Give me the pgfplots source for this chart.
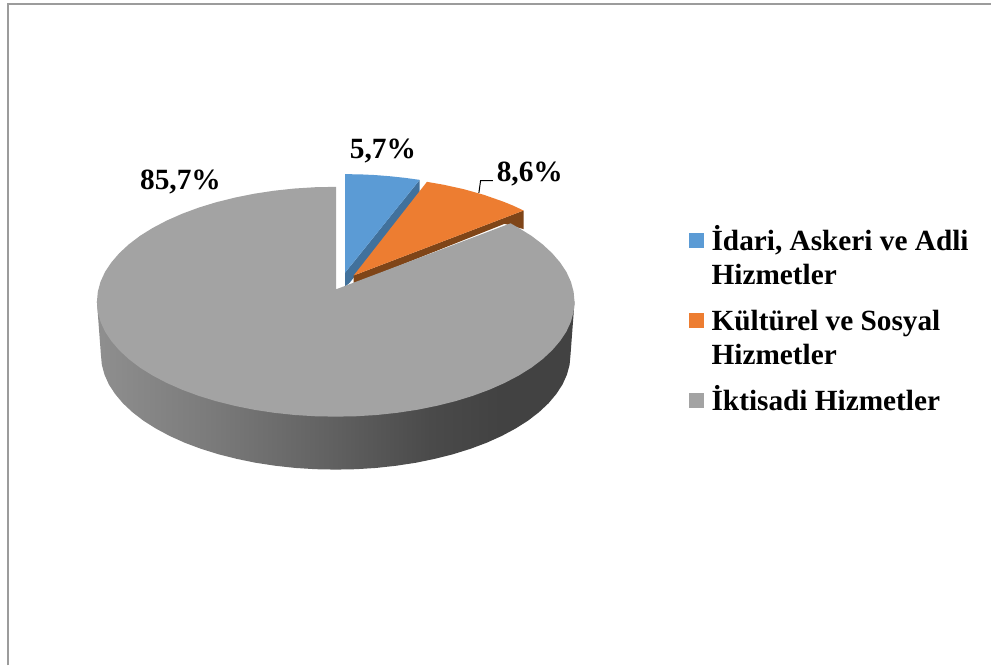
\documentclass[border=0pt]{standalone}
\usepackage{fontspec}
\setmainfont{Liberation Serif}
\usepackage{pgfplots}
\pgfplotsset{compat=1.18}
\definecolor{cblue}{HTML}{5B9BD5}
\definecolor{cbluedk}{HTML}{41719C}
\definecolor{corange}{HTML}{ED7D31}
\definecolor{corangedk}{HTML}{7F4518}
\definecolor{cgray}{HTML}{A3A3A3}
\definecolor{cframe}{HTML}{9C9C9C}
\pgfdeclarehorizontalshading{sidegrad}{100bp}{
 rgb(0bp)=(.56,.56,.56);
 rgb(25bp)=(.56,.56,.56);
 rgb(37bp)=(.48,.48,.48);
 rgb(49.5bp)=(.38,.38,.38);
 rgb(60bp)=(.29,.29,.29);
 rgb(67bp)=(.26,.26,.26);
 rgb(100bp)=(.26,.26,.26)}
\newcommand{\lab}{\fontsize{29.4}{32}\selectfont\bfseries}
\newcommand{\leg}{\fontsize{29.3}{32}\selectfont\bfseries}
\begin{document}
\begin{tikzpicture}
\begin{axis}[
  scale only axis, width=992pt, height=666pt,
  xmin=0, xmax=992, ymin=0, ymax=666, y dir=reverse,
  hide axis, clip=false]
% page
\addplot[fill=white, draw=none] coordinates {(0,0)(992,0)(992,666)(0,666)} --cycle;
% frame
\addplot[cframe, line width=1.7pt] coordinates {(8,666)(8,4)(992,4)};
% side of the big slice
\addplot[draw=none, shade, shading=sidegrad] coordinates {
(97,302)(575,302)(571,355)(570.1,365.0)(567.4,375.0)(563.0,384.8)(556.8,394.3)(549.0,403.6)(539.5,412.5)(528.5,421.0)(516.0,428.9)(502.2,436.3)(487.1,443.1)(470.8,449.2)(453.5,454.6)(435.3,459.2)(416.4,463.1)(396.8,466.1)(376.8,468.3)(356.5,469.6)(336,470)(315.5,469.6)(295.2,468.3)(275.2,466.1)(255.6,463.1)(236.7,459.2)(218.5,454.6)(201.2,449.2)(184.9,443.1)(169.8,436.3)(156.0,428.9)(143.5,421.0)(132.5,412.5)(123.0,403.6)(115.2,394.3)(109.0,384.8)(104.6,375.0)(101.9,365.0)(101,355)
} --cycle;
% dark edges
\addplot[fill=cbluedk, draw=none] coordinates {(345.3,273)(420,180)(420,192)(350,283)(345.3,287)} --cycle;
\addplot[fill=corangedk, draw=none] coordinates {(354,275.7)(524,210.7)(524,229.3)(505,224)(354,284)} --cycle;
% blue slice
\addplot[fill=cblue, draw=none] coordinates {(345.3,174.3)(360.3,174.5)(375.3,175.2)(390.3,176.4)(405.3,178)(420,180)(345.3,273)} --cycle;
% orange slice
\addplot[fill=corange, draw=none] coordinates {(427.3,182)(444,184.9)(464,189.3)(484,194.9)(504,201.9)(514,206)(524,210.7)(354,275.7)} --cycle;
% big slice
\addplot[fill=cgray, draw=none] coordinates {
(336.5,187)(315.2,187.4)(294.5,188.7)(274.1,190.9)(254.3,193.9)(235.0,197.8)(216.5,202.4)(198.9,207.8)(182.4,213.9)(167.0,220.7)(152.9,228.1)(140.2,236.0)(129.0,244.5)(119.4,253.4)(111.4,262.7)(105.1,272.2)(100.6,282.0)(97.9,292.0)(97,302)
(97.9,312.0)(100.6,322.0)(105.1,331.8)(111.4,341.3)(119.4,350.6)(129.0,359.5)(140.2,368.0)(152.9,375.9)(167.0,383.3)(182.4,390.1)(198.9,396.2)(216.5,401.6)(235.0,406.2)(254.3,410.1)(274.1,413.1)(294.5,415.3)(315.2,416.6)(336,417)
(356.8,416.6)(377.5,415.3)(397.9,413.1)(417.7,410.1)(437.0,406.2)(455.5,401.6)(473.1,396.2)(489.6,390.1)(505.0,383.3)(519.1,375.9)(531.8,368.0)(543.0,359.5)(552.6,350.6)(560.6,341.3)(566.9,331.8)(571.4,322.0)(574.1,312.0)(575,302)
(574.1,292.0)(571.4,282.0)(566.9,272.2)(560.6,262.7)(552.6,253.4)(543.0,244.5)(531.8,236.0)(519.1,228.1)(511,223.5)(336.5,289.5)
} --cycle;
% leader
\addplot[black, line width=1pt] coordinates {(479.3,193)(481,180.7)(493.3,180.7)};
% legend swatches
\addplot[fill=cblue, draw=none] coordinates {(690,233)(705,233)(705,248)(690,248)} --cycle;
\addplot[fill=corange, draw=none] coordinates {(690,313)(705,313)(705,328)(690,328)} --cycle;
\addplot[fill=cgray, draw=none] coordinates {(690,393)(705,393)(705,408)(690,408)} --cycle;
% labels
\node[anchor=base west, inner sep=0pt] at (axis cs:350,158.5) {\lab 5,7\%};
\node[anchor=base west, inner sep=0pt] at (axis cs:497,182) {\lab 8,6\%};
\node[anchor=base west, inner sep=0pt] at (axis cs:140,190) {\lab 85,7\%};
% legend text
\node[anchor=base west, inner sep=0pt] at (axis cs:712,251) {\leg İdari, Askeri ve Adli};
\node[anchor=base west, inner sep=0pt] at (axis cs:712,284.5) {\leg Hizmetler};
\node[anchor=base west, inner sep=0pt] at (axis cs:712,331) {\leg Kültürel ve Sosyal};
\node[anchor=base west, inner sep=0pt] at (axis cs:712,364.5) {\leg Hizmetler};
\node[anchor=base west, inner sep=0pt] at (axis cs:712,411) {\leg İktisadi Hizmetler};
\end{axis}
\end{tikzpicture}
\end{document}
